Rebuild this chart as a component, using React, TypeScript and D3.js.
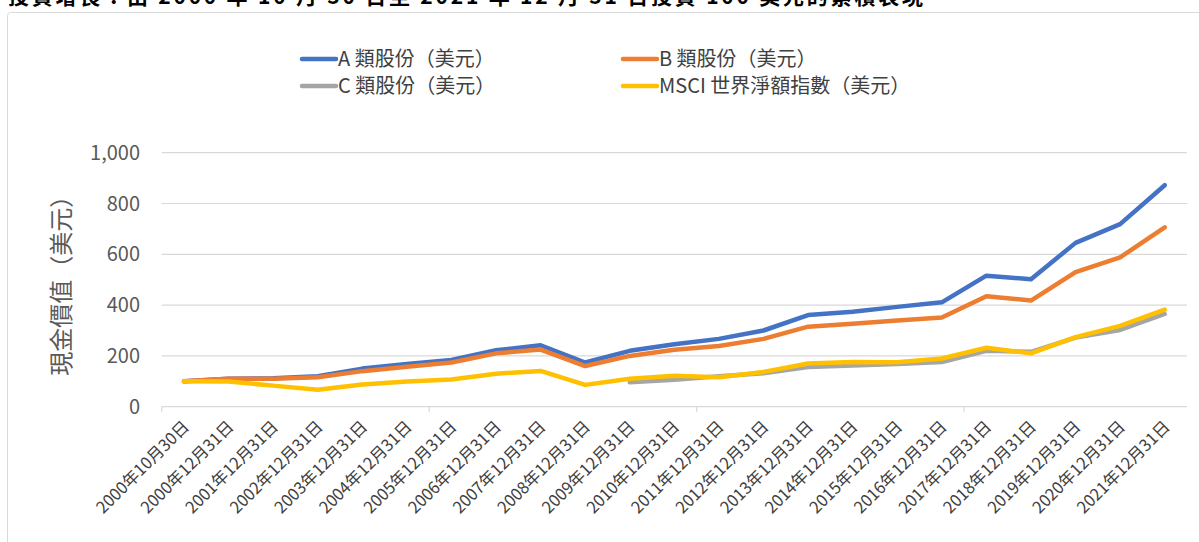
import React, { useRef, useEffect } from 'react';
import * as d3 from 'd3';

const dates = [
  '2000年10月30日', '2000年12月31日', '2001年12月31日', '2002年12月31日', '2003年12月31日',
  '2004年12月31日', '2005年12月31日', '2006年12月31日', '2007年12月31日', '2008年12月31日',
  '2009年12月31日', '2010年12月31日', '2011年12月31日', '2012年12月31日', '2013年12月31日',
  '2014年12月31日', '2015年12月31日', '2016年12月31日', '2017年12月31日', '2018年12月31日',
  '2019年12月31日', '2020年12月31日', '2021年12月31日',
];

const classA = [100, 110, 112, 120, 150, 168, 184, 222, 242, 174, 220, 246, 267, 300, 361, 374, 393, 411, 516, 502, 645, 719, 872];
const classB = [100, 110, 110, 116, 140, 157, 174, 210, 225, 160, 200, 224, 239, 267, 315, 327, 339, 351, 435, 418, 530, 588, 706];
const classC = [null, null, null, null, null, null, null, null, null, null, 96, 106, 120, 132, 156, 162, 168, 176, 220, 216, 272, 302, 365];
const msci = [100, 99, 83, 67, 87, 99, 107, 130, 141, 86, 110, 122, 116, 137, 170, 176, 175, 190, 232, 210, 274, 318, 382];

const yTicks = [0, 200, 400, 600, 800, 1000];

const seriesNames = ['A 類股份（美元）', 'B 類股份（美元）', 'C 類股份（美元）', 'MSCI 世界淨額指數（美元）'];
const seriesColors = ['#4472C4', '#ED7D31', '#A5A5A5', '#FFC000'];

const title = '投資增長：由 2000 年 10 月 30 日至 2021 年 12 月 31 日投資 100 美元的累積表現';

const FONT = '"Noto Sans CJK TC", "Noto Sans", sans-serif';

const App: React.FC = () => {
  const ref = useRef<SVGSVGElement | null>(null);
  const width = 1199;
  const height = 542;

  useEffect(() => {
    const svg = d3.select(ref.current);
    svg.selectAll('*').remove();

    // title, cut off at the top of the picture
    svg.append('text')
      .attr('x', 8)
      .attr('y', 4)
      .attr('font-family', FONT)
      .attr('font-size', '21px')
      .attr('font-weight', 'bold')
      .attr('fill', '#000')
      .attr('textLength', 915)
      .attr('lengthAdjust', 'spacing')
      .text(title);

    // chart area border
    svg.append('rect')
      .attr('x', 7.5)
      .attr('y', 12.5)
      .attr('width', 1220)
      .attr('height', 560)
      .attr('rx', 3)
      .attr('fill', 'none')
      .attr('stroke', '#d9d9d9');

    const plot = { left: 161.7, right: 1187, top: 152.7, bottom: 406.7 };

    const x = d3.scaleBand<string>().domain(dates).range([plot.left, plot.right]);
    const y = d3.scaleLinear().domain([0, 1000]).range([plot.bottom, plot.top]);
    const cx = (i: number) => (x(dates[i]) as number) + x.bandwidth() / 2;

    // gridlines
    svg.append('g')
      .selectAll('line')
      .data(yTicks.filter(t => t > 0))
      .join('line')
      .attr('x1', plot.left)
      .attr('x2', plot.right)
      .attr('y1', d => y(d))
      .attr('y2', d => y(d))
      .attr('stroke', '#d9d9d9')
      .attr('stroke-width', 1.2);

    // y tick labels
    svg.append('g')
      .selectAll('text')
      .data(yTicks)
      .join('text')
      .attr('x', 140)
      .attr('y', d => y(d))
      .attr('dy', '0.35em')
      .attr('text-anchor', 'end')
      .attr('font-family', FONT)
      .attr('font-size', '20px')
      .attr('fill', '#595959')
      .text(d => d3.format(',')(d));

    // y title
    svg.append('text')
      .attr('transform', `translate(62,${(plot.top + plot.bottom) / 2}) rotate(-90)`)
      .attr('text-anchor', 'middle')
      .attr('dy', '0.35em')
      .attr('font-family', FONT)
      .attr('font-size', '24px')
      .attr('fill', '#595959')
      .text('現金價值（美元）');

    // x axis line and tick marks every 6 categories
    svg.append('line')
      .attr('x1', plot.left)
      .attr('x2', plot.right)
      .attr('y1', plot.bottom)
      .attr('y2', plot.bottom)
      .attr('stroke', '#d9d9d9')
      .attr('stroke-width', 1.2);
    svg.append('g')
      .selectAll('line')
      .data([0, 6, 12, 18])
      .join('line')
      .attr('x1', i => x(dates[i]) as number)
      .attr('x2', i => x(dates[i]) as number)
      .attr('y1', plot.bottom)
      .attr('y2', plot.bottom + 5)
      .attr('stroke', '#d9d9d9')
      .attr('stroke-width', 1.2);

    // x tick labels, rotated
    svg.append('g')
      .selectAll('text')
      .data(dates)
      .join('text')
      .attr('transform', (d, i) => `translate(${cx(i) + 2},${plot.bottom + 17}) rotate(-45)`)
      .attr('text-anchor', 'end')
      .attr('dy', '0.35em')
      .attr('font-family', FONT)
      .attr('font-size', '16.5px')
      .attr('fill', '#404040')
      .text(d => d);

    // lines
    const allSeries = [classA, classB, classC, msci];
    const line = d3.line<number | null>()
      .defined(v => v !== null)
      .x((v, i) => cx(i))
      .y(v => y(v as number));

    allSeries.forEach((s, k) => {
      svg.append('path')
        .attr('d', line(s))
        .attr('fill', 'none')
        .attr('stroke', seriesColors[k])
        .attr('stroke-width', 4.5)
        .attr('stroke-linejoin', 'round')
        .attr('stroke-linecap', 'round');
    });

    // legend
    const legendPos = [
      { x: 302, y: 59 },
      { x: 623, y: 59 },
      { x: 302, y: 86 },
      { x: 623, y: 86 },
    ];
    seriesNames.forEach((name, k) => {
      const g = svg.append('g').attr('transform', `translate(${legendPos[k].x},${legendPos[k].y})`);
      g.append('line')
        .attr('x1', 0)
        .attr('x2', 34)
        .attr('stroke', seriesColors[k])
        .attr('stroke-width', 4.5)
        .attr('stroke-linecap', 'round');
      g.append('text')
        .attr('x', 36)
        .attr('dy', '0.35em')
        .attr('font-family', FONT)
        .attr('font-size', '20px')
        .attr('fill', '#404040')
        .text(name);
    });
  }, []);

  return (
    <svg
      ref={ref}
      width={width}
      height={height}
      style={{ position: 'absolute', left: 0, top: 0, background: '#fff' }}
    />
  );
};

export default App;
